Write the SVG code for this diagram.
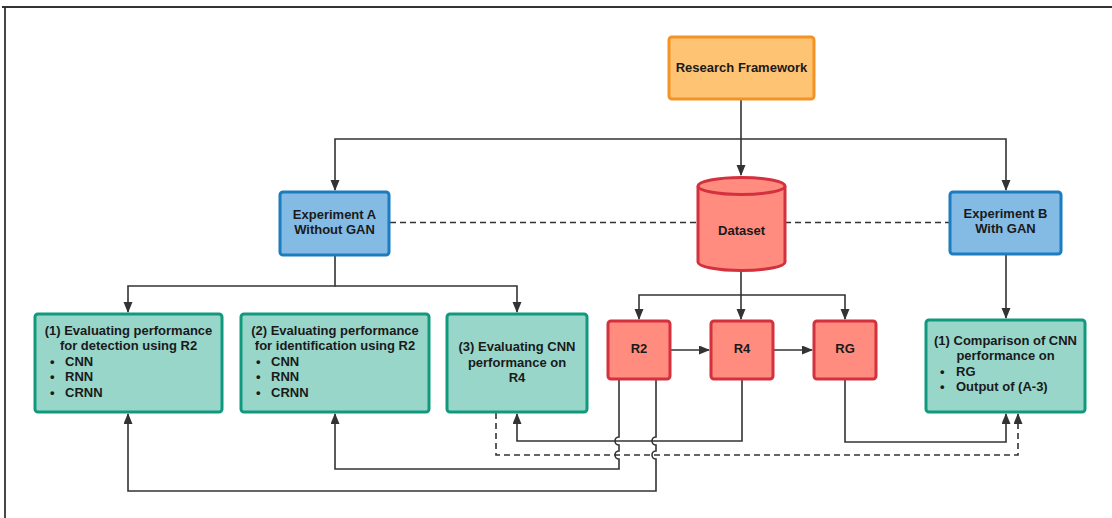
<svg xmlns="http://www.w3.org/2000/svg" width="1112" height="518" viewBox="0 0 1112 518">
<style>
text{font-family:"Liberation Sans",Arial,sans-serif;font-weight:bold;font-size:13px;fill:#1a1a1a}
.c{text-anchor:middle}
.orange{fill:#FFC374;stroke:#F39325;stroke-width:3}
.blue{fill:#83BBE5;stroke:#1B7CC0;stroke-width:3}
.teal{fill:#99D6CA;stroke:#10997C;stroke-width:3}
.red{fill:#FF8C7F;stroke:#D3313D;stroke-width:3}
.ln{fill:none;stroke:#333;stroke-width:1.6}
.ar{marker-end:url(#ah)}
.ds{stroke-dasharray:6 4}
</style>
<defs>
<marker id="ah" markerUnits="userSpaceOnUse" markerWidth="11" markerHeight="10" refX="10" refY="4.5" orient="auto">
<path d="M0,0 L11,4.5 L0,9 z" fill="#333"/>
</marker>
</defs>
<rect width="1112" height="518" fill="#fff"/>
<path d="M2,7 H1112 M5,7 V518" stroke="#333" stroke-width="1.8" fill="none"/>

<g id="connectors">
<path class="ln ar" d="M741,99 V175"/>
<path class="ln ar" d="M741,139 H335 V190"/>
<path class="ln ar" d="M741,139 H1006 V190"/>
<path class="ln ds" d="M390,222.5 H698 M785,222.5 H950"/>
<path class="ln ar" d="M335,256 V286 H128 V312"/>
<path class="ln ar" d="M335,286 H517 V312"/>
<path class="ln ar" d="M741,271 V295 H639 V319"/>
<path class="ln ar" d="M741,295 V319"/>
<path class="ln ar" d="M741,295 H845 V319"/>
<path class="ln ar" d="M670,350 H709"/>
<path class="ln ar" d="M773,350 H812"/>
<path class="ln ar" d="M1006,255 V318"/>
<path class="ln ar" d="M742,380 V441 H517 V414"/>
<path class="ln ar" d="M845,380 V442 H1006 V414"/>
<path class="ln ar ds" d="M496,413 V455 H1018 V414"/>
<path class="ln ar" d="M619,380 V437 A4,4 0 0 0 619,445 V451 A4,4 0 0 0 619,459 V469 H335 V414"/>
<path class="ln ar" d="M656,380 V437 A4,4 0 0 0 656,445 V451 A4,4 0 0 0 656,459 V491 H128 V414"/>
</g>

<g id="research-framework">
<rect class="orange" x="669" y="37" width="145" height="62" rx="3"/>
<text class="c" x="741.5" y="72">Research Framework</text>
</g>

<g id="experiment-a">
<rect class="blue" x="280" y="192" width="109" height="63" rx="3"/>
<text class="c" x="334.5" y="219">Experiment A</text>
<text class="c" x="334.5" y="234">Without GAN</text>
</g>

<g id="dataset">
<path class="red" d="M698,186 V262 A43.5,8.5 0 0 0 785,262 V186 A43.5,8.5 0 0 0 698,186 Z"/>
<path class="red" d="M698,186 A43.5,8.5 0 0 0 785,186" fill="none"/>
<text class="c" x="741.5" y="235">Dataset</text>
</g>

<g id="experiment-b">
<rect class="blue" x="950" y="192" width="111" height="62" rx="3"/>
<text class="c" x="1005.5" y="218">Experiment B</text>
<text class="c" x="1005.5" y="233">With GAN</text>
</g>

<g id="a1">
<rect class="teal" x="35" y="314" width="187" height="98" rx="3"/>
<text class="c" x="128.5" y="335">(1) Evaluating performance</text>
<text class="c" x="128.5" y="350">for detection using R2</text>
<text x="50" y="366">•</text><text x="65" y="366">CNN</text>
<text x="50" y="381">•</text><text x="65" y="381">RNN</text>
<text x="50" y="397">•</text><text x="65" y="397">CRNN</text>
</g>

<g id="a2">
<rect class="teal" x="241" y="314" width="188" height="98" rx="3"/>
<text class="c" x="335" y="335">(2) Evaluating performance</text>
<text class="c" x="335" y="350">for identification using R2</text>
<text x="256" y="366">•</text><text x="271" y="366">CNN</text>
<text x="256" y="381">•</text><text x="271" y="381">RNN</text>
<text x="256" y="397">•</text><text x="271" y="397">CRNN</text>
</g>

<g id="a3">
<rect class="teal" x="447" y="314" width="140" height="98" rx="3"/>
<text class="c" x="517" y="351">(3) Evaluating CNN</text>
<text class="c" x="517" y="367">performance on</text>
<text class="c" x="517" y="382">R4</text>
</g>

<g id="r2">
<rect class="red" x="608" y="321" width="62" height="58" rx="3"/>
<text class="c" x="639" y="353">R2</text>
</g>
<g id="r4">
<rect class="red" x="711" y="321" width="62" height="58" rx="3"/>
<text class="c" x="742" y="353">R4</text>
</g>
<g id="rg">
<rect class="red" x="814" y="321" width="62" height="58" rx="3"/>
<text class="c" x="845" y="353">RG</text>
</g>

<g id="b1">
<rect class="teal" x="926" y="320" width="159" height="92" rx="3"/>
<text class="c" x="1005.5" y="345">(1) Comparison of CNN</text>
<text class="c" x="1005.5" y="360">performance on</text>
<text x="940" y="376">•</text><text x="956" y="376">RG</text>
<text x="940" y="391">•</text><text x="956" y="391">Output of (A-3)</text>
</g>
</svg>
